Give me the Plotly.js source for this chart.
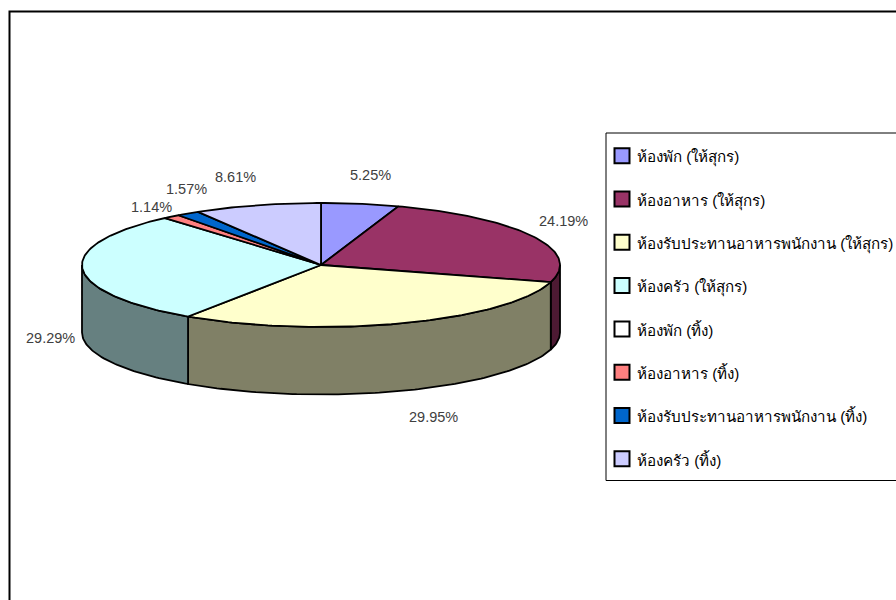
<!DOCTYPE html>
<html><head><meta charset="utf-8">
<script src="https://cdn.plot.ly/plotly-3.0.1.min.js"></script>
<style>html,body{margin:0;padding:0;background:#fff;overflow:hidden}#c{width:896px;height:600px}</style>
</head><body><div id="c"></div>
<script>
const categories = ['ห้องพัก (ให้สุกร)','ห้องอาหาร (ให้สุกร)','ห้องรับประทานอาหารพนักงาน (ให้สุกร)','ห้องครัว (ให้สุกร)','ห้องพัก (ทิ้ง)','ห้องอาหาร (ทิ้ง)','ห้องรับประทานอาหารพนักงาน (ทิ้ง)','ห้องครัว (ทิ้ง)'];
const values = [5.25,24.19,29.95,29.29,0,1.14,1.57,8.61];
const topColors = ['#9999FF','#993366','#FFFFCC','#CCFFFF','#FFFFFF','#FF8080','#0066CC','#CCCCFF'];
const sideColors = ['#4D4D80','#4D1A33','#808066','#668080','#808080','#804040','#003366','#666680'];
// pixel nudges of the percent labels from their slice's rim point
const labelNudgeX = [10,31,30,-32,0,-20,-1,-22];
const labelNudgeY = [-29,-15,94,69,0,-10,-24,-28];

const cx=321, cy=265, rx=239, ry=62, depth=67.5;
const FONT_THAI='"Liberation Sans","Noto Sans",Arial,sans-serif';
const px=a=>cx+rx*Math.sin(a*Math.PI/180);
const py=a=>cy-ry*Math.cos(a*Math.PI/180);
function arc(a0,a1){const n=Math.max(2,Math.ceil(Math.abs(a1-a0)));const r=[];for(let i=0;i<=n;i++)r.push(a0+(a1-a0)*i/n);return r;}

const total=values.reduce((s,v)=>s+v,0);
let run=0;
const slices=values.map(v=>{const a0=run/total*360;run+=v;return {a0,a1:run/total*360};});

const traces=[];
const ln={color:'#000',width:1.8};
// side walls, only the front half of the rim (90 to 270 degrees) shows
slices.forEach((s,i)=>{
  const a0=Math.max(s.a0,90),a1=Math.min(s.a1,270);
  if(a1<=a0) return;
  const A=arc(a0,a1);
  const x=A.map(px).concat(A.slice().reverse().map(px));
  const y=A.map(py).concat(A.slice().reverse().map(a=>py(a)+depth));
  x.push(x[0]);y.push(y[0]);
  traces.push({type:'scatter',mode:'lines',x,y,fill:'toself',fillcolor:sideColors[i],line:ln,hoverinfo:'skip',showlegend:false});
});
// top faces
slices.forEach((s,i)=>{
  if(values[i]<=0) return;
  const A=arc(s.a0,s.a1);
  const x=[cx].concat(A.map(px),[cx]);
  const y=[cy].concat(A.map(py),[cy]);
  traces.push({type:'scatter',mode:'lines',x,y,fill:'toself',fillcolor:topColors[i],line:ln,hoverinfo:'skip',showlegend:false,name:categories[i]});
});
// legend
const legY=categories.map((c,i)=>155.7+i*43.3);
traces.push({type:'scatter',mode:'markers',x:categories.map(()=>622),y:legY,
  marker:{symbol:'square',size:15,color:topColors,line:{color:'#000',width:2}},hoverinfo:'skip',showlegend:false});
traces.push({type:'scatter',mode:'text',x:categories.map(()=>637),y:legY.map(v=>v+3),text:categories,textposition:'middle right',
  textfont:{family:FONT_THAI,size:15.2,color:'#000'},hoverinfo:'skip',showlegend:false});

const annotations=[];
slices.forEach((s,i)=>{
  if(values[i]<=0) return;
  const m=(s.a0+s.a1)/2;
  annotations.push({x:px(m),y:py(m),xref:'x',yref:'y',showarrow:false,xanchor:'center',yanchor:'middle',
    xshift:labelNudgeX[i],yshift:-labelNudgeY[i],text:values[i].toFixed(2)+'%',
    font:{family:'"Liberation Sans",Arial,sans-serif',size:14.5,color:'#404040'}});
});

const layout={width:896,height:600,margin:{l:0,r:0,t:0,b:0},paper_bgcolor:'#fff',plot_bgcolor:'#fff',showlegend:false,
  xaxis:{range:[0,896],visible:false,fixedrange:true},
  yaxis:{range:[600,0],visible:false,fixedrange:true},
  annotations,
  shapes:[
    {type:'rect',xref:'x',yref:'y',x0:9.5,y0:11.5,x1:905,y1:610,line:{color:'#000',width:2},layer:'below'},
    {type:'rect',xref:'x',yref:'y',x0:606,y0:133,x1:905,y1:480.5,line:{color:'#000',width:1},fillcolor:'#fff',layer:'below'}
  ]};
Plotly.newPlot('c',traces,layout,{displayModeBar:false,staticPlot:true});
</script></body></html>
